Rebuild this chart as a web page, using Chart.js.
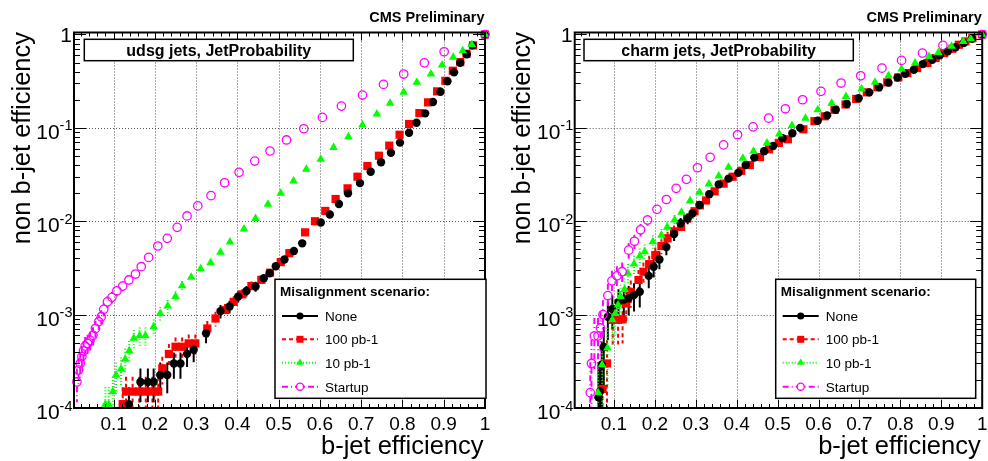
<!DOCTYPE html>
<html>
<head>
<meta charset="utf-8">
<script src="https://cdn.jsdelivr.net/npm/chart.js@4"></script>
<style>
html, body { margin: 0; padding: 0; background: #fff; }
#wrap { position: relative; width: 988px; height: 461px; }
canvas { position: absolute; top: 0; }
#udsg { left: 0; }
#charm { left: 494px; }
</style>
</head>
<body>
<div id="wrap">
<canvas id="udsg" width="494" height="461"></canvas>
<canvas id="charm" width="494" height="461"></canvas>
</div>
<script>
// ---- udsg jets ----
var udsgNoneX = [0.137, 0.165, 0.183, 0.197, 0.213, 0.230, 0.246, 0.262, 0.278, 0.294, 0.324, 0.359, 0.381, 0.402, 0.422, 0.444, 0.464, 0.478, 0.493, 0.514, 0.537, 0.557, 0.602, 0.624, 0.646, 0.668, 0.697, 0.723, 0.748, 0.772, 0.794, 0.816, 0.834, 0.855, 0.874, 0.892, 0.909, 0.925, 0.940, 0.956, 0.970, 1.0];
var udsgNoneY = [1.1e-4, 1.9e-4, 1.9e-4, 1.9e-4, 2.26e-4, 2.26e-4, 3.0e-4, 3.0e-4, 3.8e-4, 4.2e-4, 6.3e-4, 1.09e-3, 1.22e-3, 1.56e-3, 1.79e-3, 2.0e-3, 2.45e-3, 2.77e-3, 3.3e-3, 3.9e-3, 4.8e-3, 5.8e-3, 9.7e-3, 0.0118, 0.0153, 0.0199, 0.0256, 0.0339, 0.0428, 0.0542, 0.0695, 0.0887, 0.1135, 0.143, 0.189, 0.244, 0.315, 0.393, 0.497, 0.612, 0.764, 1.0];
var udsgNoneErr = [5.7e-5, 7.5e-5, 7.5e-5, 7.5e-5, 8.2e-5, 8.2e-5, 9.4e-5, 9.4e-5, 1.06e-4, 1.11e-4, 1.36e-4, 1.79e-4, 1.9e-4, 2.14e-4, 2.3e-4, 2.43e-4];

var udsg100X = [0.122, 0.130, 0.146, 0.162, 0.178, 0.194, 0.208, 0.218, 0.234, 0.250, 0.266, 0.282, 0.298, 0.327, 0.347, 0.370, 0.391, 0.412, 0.434, 0.458, 0.479, 0.505, 0.526, 0.564, 0.588, 0.613, 0.638, 0.667, 0.691, 0.715, 0.743, 0.768, 0.793, 0.816, 0.841, 0.862, 0.884, 0.904, 0.922, 0.940, 0.955, 0.971, 1.0];
var udsg100Y = [1.1e-4, 1.5e-4, 1.5e-4, 1.5e-4, 1.5e-4, 1.5e-4, 1.5e-4, 2.66e-4, 3.79e-4, 4.53e-4, 4.53e-4, 4.92e-4, 4.92e-4, 7.1e-4, 9.1e-4, 1.12e-3, 1.37e-3, 1.65e-3, 2.02e-3, 2.36e-3, 2.81e-3, 3.65e-3, 4.55e-3, 7.6e-3, 0.0100, 0.0129, 0.0173, 0.0225, 0.030, 0.039, 0.0503, 0.0645, 0.0844, 0.110, 0.144, 0.1875, 0.246, 0.319, 0.409, 0.506, 0.622, 0.764, 1.0];
var udsg100Err = [5.7e-5, 6.6e-5, 6.6e-5, 6.6e-5, 6.6e-5, 6.6e-5, 6.6e-5, 8.8e-5, 1.06e-4, 1.15e-4, 1.15e-4, 1.2e-4, 1.2e-4, 1.45e-4, 1.64e-4, 1.81e-4, 2.0e-4, 2.2e-4, 2.44e-4];

var udsg10X = [0.080, 0.088, 0.098, 0.106, 0.118, 0.128, 0.138, 0.149, 0.163, 0.177, 0.197, 0.213, 0.231, 0.250, 0.266, 0.288, 0.311, 0.335, 0.359, 0.382, 0.416, 0.444, 0.474, 0.505, 0.536, 0.567, 0.602, 0.633, 0.669, 0.703, 0.738, 0.770, 0.803, 0.835, 0.869, 0.896, 0.923, 0.946, 0.968, 1.0];
var udsg10Y = [1.1e-4, 1.1e-4, 1.49e-4, 2.25e-4, 2.62e-4, 3.32e-4, 4.11e-4, 5.57e-4, 5.94e-4, 5.94e-4, 7.4e-4, 1.03e-3, 1.24e-3, 1.56e-3, 2.04e-3, 2.51e-3, 3.1e-3, 3.6e-3, 4.65e-3, 6.0e-3, 8.26e-3, 0.0107, 0.0152, 0.0199, 0.0269, 0.036, 0.046, 0.0618, 0.0803, 0.107, 0.1406, 0.183, 0.240, 0.307, 0.377, 0.47, 0.569, 0.67, 0.78, 1.0];
var udsg10Err = [5.7e-5, 5.7e-5, 6.6e-5, 8.1e-5, 8.8e-5, 9.9e-5, 1.1e-4, 1.28e-4, 1.32e-4, 1.32e-4, 1.48e-4, 1.74e-4, 1.91e-4, 2.14e-4, 2.45e-4];

var udsgStartX = [0.011, 0.015, 0.019, 0.023, 0.027, 0.031, 0.037, 0.043, 0.050, 0.056, 0.064, 0.070, 0.076, 0.085, 0.096, 0.108, 0.122, 0.137, 0.153, 0.167, 0.185, 0.207, 0.230, 0.254, 0.278, 0.304, 0.336, 0.369, 0.404, 0.442, 0.479, 0.519, 0.561, 0.606, 0.652, 0.703, 0.754, 0.803, 0.853, 0.901, 1.0];
var udsgStartY = [1.9e-4, 2.55e-4, 3.0e-4, 3.55e-4, 4.1e-4, 4.6e-4, 4.9e-4, 5.3e-4, 6.0e-4, 7.1e-4, 8.4e-4, 9.5e-4, 1.14e-3, 1.37e-3, 1.53e-3, 1.8e-3, 2.02e-3, 2.35e-3, 2.72e-3, 3.26e-3, 4.1e-3, 5.43e-3, 6.56e-3, 8.6e-3, 0.0114, 0.0146, 0.0188, 0.0258, 0.0334, 0.0441, 0.0565, 0.0742, 0.0978, 0.1295, 0.171, 0.2245, 0.292, 0.377, 0.497, 0.653, 1.0];
var udsgStartErr = [7.5e-5, 8.7e-5, 9.4e-5, 1.02e-4, 1.1e-4, 1.16e-4, 1.2e-4, 1.25e-4, 1.33e-4, 1.45e-4, 1.57e-4, 1.67e-4, 1.83e-4, 2.0e-4, 2.12e-4, 2.3e-4, 2.44e-4];

// ---- charm jets ----
var charmNoneX = [0.062, 0.066, 0.070, 0.075, 0.085, 0.096, 0.111, 0.124, 0.136, 0.149, 0.163, 0.185, 0.197, 0.211, 0.228, 0.247, 0.263, 0.280, 0.292, 0.309, 0.333, 0.356, 0.380, 0.404, 0.422, 0.443, 0.467, 0.489, 0.512, 0.536, 0.555, 0.598, 0.621, 0.642, 0.669, 0.698, 0.724, 0.748, 0.771, 0.793, 0.812, 0.833, 0.855, 0.878, 0.896, 0.916, 0.935, 0.955, 0.975, 1.0];
var charmNoneY = [1.3e-4, 1.5e-4, 2.9e-4, 4.5e-4, 9.5e-4, 1.15e-3, 1.37e-3, 1.45e-3, 1.5e-3, 1.62e-3, 1.76e-3, 2.6e-3, 3.26e-3, 3.9e-3, 5.3e-3, 7.3e-3, 9.5e-3, 0.0107, 0.0122, 0.0149, 0.0195, 0.0248, 0.0286, 0.033, 0.040, 0.048, 0.0563, 0.064, 0.0774, 0.0875, 0.1, 0.119, 0.136, 0.156, 0.18, 0.208, 0.240, 0.272, 0.305, 0.345, 0.38, 0.419, 0.482, 0.536, 0.597, 0.66, 0.73, 0.81, 0.9, 1.0];
var charmNoneErr = [1.54e-4, 1.65e-4, 2.3e-4, 2.86e-4, 4.16e-4, 4.58e-4, 5.0e-4, 5.14e-4, 5.23e-4, 5.43e-4, 5.66e-4, 6.88e-4, 7.7e-4, 8.43e-4, 9.83e-4, 1.15e-3, 1.32e-3, 1.4e-3, 1.49e-3];

var charm100X = [0.072, 0.083, 0.097, 0.110, 0.121, 0.130, 0.141, 0.160, 0.172, 0.186, 0.201, 0.216, 0.231, 0.247, 0.264, 0.279, 0.297, 0.310, 0.325, 0.346, 0.368, 0.390, 0.411, 0.432, 0.457, 0.479, 0.503, 0.525, 0.563, 0.590, 0.615, 0.639, 0.666, 0.692, 0.718, 0.744, 0.768, 0.795, 0.817, 0.841, 0.866, 0.886, 0.907, 0.927, 0.943, 0.959, 0.976, 1.0];
var charm100Y = [1.6e-4, 3.0e-4, 8.8e-4, 8.8e-4, 8.9e-4, 1.32e-3, 1.75e-3, 2.35e-3, 2.88e-3, 3.47e-3, 4.35e-3, 5.42e-3, 6.56e-3, 7.8e-3, 8.7e-3, 0.0107, 0.0128, 0.0148, 0.0167, 0.0209, 0.0253, 0.030, 0.0347, 0.040, 0.0487, 0.059, 0.069, 0.0755, 0.0965, 0.118, 0.133, 0.156, 0.178, 0.204, 0.240, 0.272, 0.307, 0.347, 0.386, 0.437, 0.494, 0.559, 0.632, 0.703, 0.776, 0.843, 0.914, 1.0];
var charm100Err = [1.71e-4, 2.34e-4, 4.0e-4, 4.0e-4, 4.0e-4, 4.9e-4, 5.65e-4, 6.54e-4, 7.25e-4, 7.95e-4, 8.9e-4, 9.94e-4, 1.09e-3, 1.19e-3, 1.26e-3, 1.4e-3];

var charm10X = [0.061, 0.071, 0.084, 0.096, 0.103, 0.110, 0.116, 0.126, 0.134, 0.149, 0.163, 0.175, 0.195, 0.216, 0.230, 0.248, 0.265, 0.286, 0.309, 0.332, 0.356, 0.380, 0.415, 0.441, 0.474, 0.504, 0.535, 0.568, 0.598, 0.632, 0.667, 0.705, 0.738, 0.771, 0.803, 0.836, 0.870, 0.893, 0.925, 0.954, 0.972, 1.0];
var charm10Y = [1.46e-4, 2.9e-4, 4.4e-4, 8.8e-4, 1.03e-3, 1.27e-3, 1.56e-3, 1.86e-3, 2.77e-3, 3.48e-3, 4.24e-3, 4.72e-3, 6.03e-3, 7.1e-3, 8.6e-3, 0.0103, 0.0125, 0.0166, 0.0205, 0.0251, 0.0305, 0.0378, 0.0473, 0.056, 0.0687, 0.0859, 0.106, 0.127, 0.156, 0.184, 0.217, 0.26, 0.307, 0.361, 0.426, 0.494, 0.582, 0.643, 0.746, 0.843, 0.9, 1.0];
var charm10Err = [1.63e-4, 2.3e-4, 2.83e-4, 4.0e-4, 4.33e-4, 4.81e-4, 5.33e-4, 5.82e-4, 7.1e-4, 7.96e-4, 8.79e-4, 9.27e-4, 1.05e-3, 1.14e-3, 1.25e-3, 1.37e-3];

var charmStartX = [0.042, 0.045, 0.052, 0.061, 0.067, 0.073, 0.085, 0.095, 0.107, 0.120, 0.136, 0.150, 0.165, 0.182, 0.205, 0.228, 0.252, 0.277, 0.304, 0.335, 0.368, 0.402, 0.440, 0.478, 0.519, 0.561, 0.606, 0.655, 0.703, 0.755, 0.803, 0.854, 0.904, 1.0];
var charmStartY = [1.46e-4, 3.0e-4, 5.9e-4, 5.9e-4, 7.2e-4, 1.0e-3, 1.6e-3, 2.3e-3, 2.6e-3, 2.88e-3, 4.9e-3, 6.1e-3, 8.1e-3, 0.0103, 0.0134, 0.0171, 0.0225, 0.0281, 0.0374, 0.0483, 0.0657, 0.0844, 0.1025, 0.127, 0.160, 0.200, 0.246, 0.302, 0.361, 0.436, 0.528, 0.632, 0.764, 1.0];
var charmStartErr = [1.63e-4, 2.34e-4, 3.28e-4, 3.28e-4, 3.62e-4, 4.27e-4, 5.4e-4, 6.47e-4, 6.88e-4, 7.25e-4, 9.45e-4, 1.05e-3, 1.22e-3, 1.37e-3];

// axis labels
var xTickValues = [0.1, 0.2, 0.3, 0.4, 0.5, 0.6, 0.7, 0.8, 0.9, 1.0];
var xTickLabels = ['0.1', '0.2', '0.3', '0.4', '0.5', '0.6', '0.7', '0.8', '0.9', '1'];
var yDecades = [1e-4, 1e-3, 1e-2, 1e-1, 1];
var yExponents = [-4, -3, -2, -1, 0];

var FONT = '"Liberation Sans", Arial, Helvetica, sans-serif';

// one entry per misalignment scenario, in legend order
var scenarios = [
  { label: 'None', color: '#000000', style: 'circle', radius: 4.2, hollow: false, dash: [] },
  { label: '100 pb-1', color: '#ff0000', style: 'rect', radius: 5.8, hollow: false, dash: [4, 3] },
  { label: '10 pb-1', color: '#00ff00', style: 'triangle', radius: 5.0, hollow: false, dash: [1, 2] },
  { label: 'Startup', color: '#ff00ff', style: 'circle', radius: 4.2, hollow: true, dash: [6, 3, 1, 3] }
];

function points(xs, ys) {
  return xs.map(function (x, i) { return { x: x, y: ys[i] }; });
}

function marker(ctx, sc, x, y) {
  ctx.save();
  ctx.setLineDash([]);
  ctx.fillStyle = sc.color;
  ctx.strokeStyle = sc.color;
  ctx.beginPath();
  if (sc.style === 'circle') {
    ctx.arc(x, y, sc.radius, 0, Math.PI * 2);
  } else if (sc.style === 'rect') {
    var h = sc.radius * Math.SQRT1_2;
    ctx.rect(x - h, y - h, 2 * h, 2 * h);
  } else {
    var r = sc.radius;
    ctx.moveTo(x, y - r);
    ctx.lineTo(x + r * 0.866, y + r * 0.5);
    ctx.lineTo(x - r * 0.866, y + r * 0.5);
    ctx.closePath();
  }
  if (sc.hollow) { ctx.lineWidth = 1.3; ctx.stroke(); } else { ctx.fill(); }
  ctx.restore();
}

function rootStyle(p) {
  return {
    id: 'rootStyle',
    beforeDatasetsDraw: function (chart) {
      var ctx = chart.ctx, a = chart.chartArea;
      var sx = chart.scales.x, sy = chart.scales.y;
      ctx.save();
      // dotted grid on the major ticks
      ctx.strokeStyle = '#555';
      ctx.lineWidth = 1;
      ctx.setLineDash([1, 2]);
      ctx.beginPath();
      xTickValues.forEach(function (v) {
        if (v >= 1) return;
        var px = Math.round(sx.getPixelForValue(v)) + 0.5;
        ctx.moveTo(px, a.top); ctx.lineTo(px, a.bottom);
      });
      yDecades.forEach(function (v) {
        if (v <= 1e-4 || v >= 1) return;
        var py = Math.round(sy.getPixelForValue(v)) + 0.5;
        ctx.moveTo(a.left, py); ctx.lineTo(a.right, py);
      });
      ctx.stroke();

      // vertical error bars, drawn in the scenario's line style
      ctx.beginPath();
      ctx.rect(a.left, a.top, a.right - a.left, a.bottom - a.top);
      ctx.clip();
      ctx.lineWidth = 2;
      chart.data.datasets.slice().reverse().forEach(function (ds) {
        var sc = ds.scenario;
        ctx.strokeStyle = sc.color;
        ctx.setLineDash(sc.dash);
        ds.data.forEach(function (pt, i) {
          var e = ds.errors[i];
          if (!e) return;
          var px = sx.getPixelForValue(pt.x);
          var py = sy.getPixelForValue(pt.y);
          var hi = sy.getPixelForValue(pt.y + e);
          var lo = pt.y - e > 0 ? sy.getPixelForValue(pt.y - e) : a.bottom + 10;
          var gap = sc.hollow ? sc.radius : 0;
          ctx.beginPath();
          ctx.moveTo(px, hi); ctx.lineTo(px, py - gap);
          ctx.moveTo(px, py + gap); ctx.lineTo(px, lo);
          ctx.stroke();
        });
      });
      ctx.restore();
    },
    afterDraw: function (chart) {
      var ctx = chart.ctx, a = chart.chartArea;
      var sx = chart.scales.x, sy = chart.scales.y;
      ctx.save();
      ctx.setLineDash([]);
      ctx.strokeStyle = '#000';
      ctx.fillStyle = '#000';

      // tick marks on all four sides
      ctx.lineWidth = 1;
      ctx.beginPath();
      for (var k = 1; k <= 50; k++) {
        var v = k / 50;
        var len = k % 5 === 0 ? 8 : 4;
        var px = Math.round(sx.getPixelForValue(v)) + 0.5;
        ctx.moveTo(px, a.bottom); ctx.lineTo(px, a.bottom - len);
        ctx.moveTo(px, a.top); ctx.lineTo(px, a.top + len);
      }
      for (var ex = -4; ex <= 0; ex++) {
        for (var m = 1; m <= 9; m++) {
          var val = m * Math.pow(10, ex);
          if (val > 1.0001) break;
          var l = m === 1 ? 12 : 6;
          var py = Math.round(sy.getPixelForValue(val)) + 0.5;
          ctx.moveTo(a.left, py); ctx.lineTo(a.left + l, py);
          ctx.moveTo(a.right, py); ctx.lineTo(a.right - l, py);
        }
      }
      ctx.stroke();

      // frame
      ctx.lineWidth = 2;
      ctx.strokeRect(a.left, a.top, a.right - a.left, a.bottom - a.top);

      // x tick labels
      ctx.font = '19px ' + FONT;
      ctx.textAlign = 'center';
      ctx.textBaseline = 'alphabetic';
      xTickValues.forEach(function (v, i) {
        ctx.fillText(xTickLabels[i], sx.getPixelForValue(v), 429.5);
      });

      // y tick labels, 10 with a raised exponent
      yDecades.forEach(function (v, i) {
        var py = sy.getPixelForValue(v);
        ctx.textAlign = 'right';
        if (yExponents[i] === 0) {
          ctx.font = '21px ' + FONT;
          ctx.fillText('1', a.left - 2, py + 7.5);
          return;
        }
        var sup = String(yExponents[i]);
        ctx.font = '14.5px ' + FONT;
        var w = ctx.measureText(sup).width;
        ctx.fillText(sup, a.left - 1.5, py + 2.5);
        ctx.font = '21px ' + FONT;
        ctx.fillText('10', a.left - 1.5 - w, py + 11);
      });

      // axis titles
      ctx.font = '25.5px ' + FONT;
      ctx.textAlign = 'right';
      ctx.fillText('b-jet efficiency', a.right - 1.5, 453.5);
      ctx.save();
      ctx.translate(a.left - 44.5, 32);
      ctx.rotate(-Math.PI / 2);
      ctx.fillText('non b-jet efficiency', 0, 0);
      ctx.restore();

      ctx.font = 'bold 14.5px ' + FONT;
      ctx.fillText('CMS Preliminary', a.right - 0.5, 21.7);

      // jet flavour box
      var bx = a.left + p.titleBox[0], bw = p.titleBox[1];
      ctx.fillStyle = '#fff';
      ctx.fillRect(bx, 39.3, bw, 21.4);
      ctx.lineWidth = 1.5;
      ctx.strokeRect(bx, 39.3, bw, 21.4);
      ctx.fillStyle = '#000';
      ctx.font = 'bold 16px ' + FONT;
      ctx.textAlign = 'center';
      ctx.fillText(p.title, bx + bw / 2, 55.5);

      // legend
      var lx = a.left + p.legendBox[0], lw = p.legendBox[1];
      ctx.fillStyle = '#fff';
      ctx.fillRect(lx, 279.3, lw, 119);
      ctx.lineWidth = 1.5;
      ctx.strokeRect(lx, 279.3, lw, 119);
      ctx.fillStyle = '#000';
      ctx.textAlign = 'left';
      ctx.font = 'bold 13.5px ' + FONT;
      ctx.fillText('Misalignment scenario:', lx + 5, 295.5);
      var rows = [316, 339.3, 362.7, 386.7];
      ctx.font = '13.5px ' + FONT;
      scenarios.forEach(function (sc, i) {
        var y = rows[i];
        ctx.save();
        ctx.strokeStyle = sc.color;
        ctx.lineWidth = 2;
        ctx.setLineDash(sc.dash);
        ctx.beginPath();
        ctx.moveTo(lx + 7, y); ctx.lineTo(lx + 43, y);
        ctx.stroke();
        ctx.restore();
        var small = { color: sc.color, style: sc.style, radius: sc.radius * 0.85, hollow: sc.hollow };
        if (sc.hollow) {
          ctx.fillStyle = '#fff';
          ctx.beginPath(); ctx.arc(lx + 25, y, small.radius, 0, Math.PI * 2); ctx.fill();
        }
        marker(ctx, small, lx + 25, y);
        ctx.fillStyle = '#000';
        ctx.fillText(sc.label, lx + 50, y + 5);
      });
      ctx.restore();
    }
  };
}

var panels = [
  {
    id: 'udsg', title: 'udsg jets, JetProbability', axisWidth: 74, padRight: 9,
    titleBox: [10.3, 269], legendBox: [201, 211],
    series: [[udsgNoneX, udsgNoneY, udsgNoneErr], [udsg100X, udsg100Y, udsg100Err], [udsg10X, udsg10Y, udsg10Err], [udsgStartX, udsgStartY, udsgStartErr]]
  },
  {
    id: 'charm', title: 'charm jets, JetProbability', axisWidth: 80.7, padRight: 4.7,
    titleBox: [9.3, 269.3], legendBox: [201, 200],
    series: [[charmNoneX, charmNoneY, charmNoneErr], [charm100X, charm100Y, charm100Err], [charm10X, charm10Y, charm10Err], [charmStartX, charmStartY, charmStartErr]]
  }
];

panels.forEach(function (p) {
  // Chart.js paints the first dataset last, so list them top layer first
  var order = [3, 2, 0, 1];
  var datasets = order.map(function (k) {
    var sc = scenarios[k], s = p.series[k];
    return {
      label: sc.label,
      data: points(s[0], s[1]),
      errors: s[2],
      scenario: sc,
      pointStyle: sc.style,
      pointRadius: sc.radius,
      pointHoverRadius: sc.radius,
      backgroundColor: sc.hollow ? 'rgba(0,0,0,0)' : sc.color,
      borderColor: sc.color,
      borderWidth: sc.hollow ? 1.3 : 0,
      showLine: false,
      clip: false
    };
  });

  new Chart(document.getElementById(p.id), {
    type: 'scatter',
    data: { datasets: datasets },
    options: {
      responsive: false,
      animation: false,
      events: [],
      layout: { padding: { left: 0, right: p.padRight, top: 32.5, bottom: 0 } },
      plugins: { legend: { display: false }, tooltip: { enabled: false } },
      scales: {
        x: {
          type: 'linear', min: 0.004, max: 1,
          grid: { display: false }, border: { display: false }, ticks: { display: false },
          afterFit: function (s) { s.height = 53; }
        },
        y: {
          type: 'logarithmic', min: 1e-4, max: 1.05,
          grid: { display: false }, border: { display: false }, ticks: { display: false },
          afterFit: function (s) { s.width = p.axisWidth; }
        }
      }
    },
    plugins: [rootStyle(p)]
  });
});
</script>
</body>
</html>
